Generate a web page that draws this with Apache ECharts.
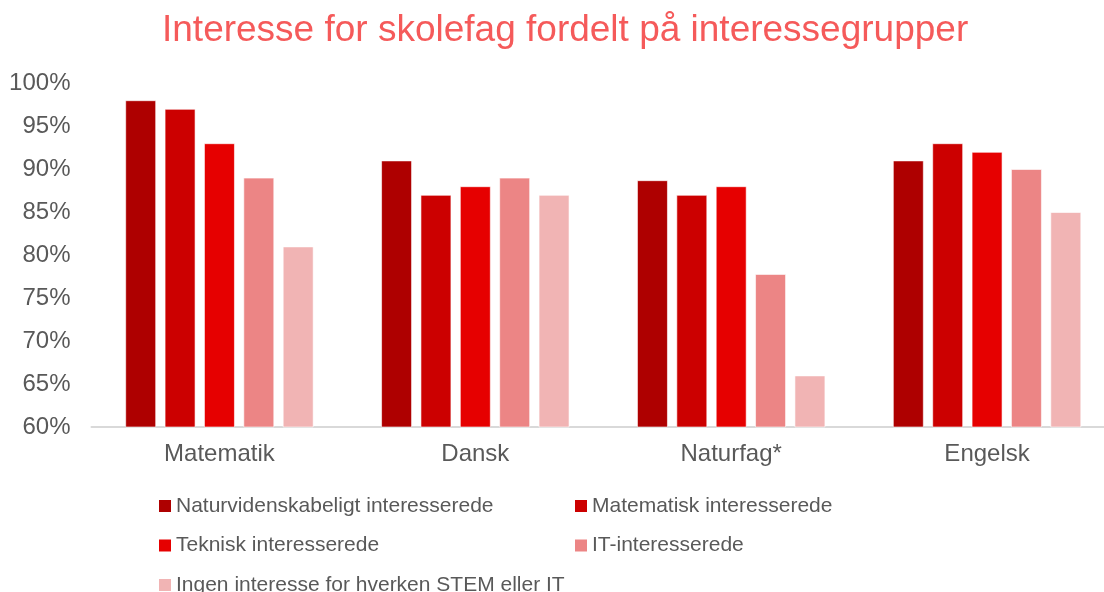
<!DOCTYPE html>
<html>
<head>
<meta charset="utf-8">
<script src="https://cdn.jsdelivr.net/npm/echarts@6/dist/echarts.min.js"></script>
<style>
  html, body { margin: 0; padding: 0; background: #fff; }
  #chart { width: 1104px; height: 592px; }
</style>
</head>
<body>
<div id="chart"></div>
<script>
  const categories = ['Matematik', 'Dansk', 'Naturfag*', 'Engelsk'];
  const seriesNames = [
    'Naturvidenskabeligt interesserede',
    'Matematisk interesserede',
    'Teknisk interesserede',
    'IT-interesserede',
    'Ingen interesse for hverken STEM eller IT',
  ];
  const naturvidenskabelig = [98, 91, 88.7, 91];
  const matematisk = [97, 87, 87, 93];
  const teknisk = [93, 88, 88, 92];
  const itInteresserede = [89, 89, 77.8, 90];
  const ingenInteresse = [81, 87, 66, 85];
  const yTicks = [60, 65, 70, 75, 80, 85, 90, 95, 100];

  const colors = ['#AE0000', '#CC0000', '#E60000', '#EC8585', '#F1B4B4'];
  const values = [naturvidenskabelig, matematisk, teknisk, itInteresserede, ingenInteresse];
  const font = '"Liberation Sans", Arial, sans-serif';

  const chart = echarts.init(document.getElementById('chart'));

  const legendText = {
    color: '#595959',
    fontSize: 21,
    fontFamily: font,
    lineHeight: 22,
  };

  const legendBase = {
    orient: 'vertical',
    top: 495,
    height: 200,
    padding: 0,
    itemWidth: 12,
    itemHeight: 12,
    itemGap: 17.5,
    icon: 'rect',
    itemStyle: { borderWidth: 0 },
    textStyle: legendText,
  };

  const option = {
    animation: false,
    title: {
      text: 'Interesse for skolefag fordelt på interessegrupper',
      left: 162,
      top: 12,
      padding: 0,
      textStyle: { color: '#F55A5A', fontSize: 37, fontWeight: 'normal', fontFamily: font },
    },
    grid: { left: 91.5, top: 83, width: 1023.5, height: 344, outerBoundsMode: 'none' },
    legend: [
      Object.assign({}, legendBase, {
        left: 159,
        data: [seriesNames[0], seriesNames[2], seriesNames[4]],
      }),
      Object.assign({}, legendBase, {
        left: 575,
        data: [seriesNames[1], seriesNames[3]],
      }),
    ],
    xAxis: {
      type: 'category',
      data: categories,
      axisLine: { lineStyle: { color: '#D9D9D9', width: 2 } },
      axisTick: { show: false },
      axisLabel: { color: '#595959', fontSize: 24, fontFamily: font, margin: 15 },
    },
    yAxis: {
      type: 'value',
      min: yTicks[0],
      max: yTicks[yTicks.length - 1],
      interval: 5,
      splitLine: { show: false },
      axisLine: { show: false },
      axisTick: { show: false },
      axisLabel: { color: '#595959', fontSize: 24, fontFamily: font, margin: 21, formatter: '{value}%' },
    },
    series: seriesNames.map((name, i) => ({
      name,
      type: 'bar',
      data: values[i],
      barWidth: 31,
      barGap: '27%',
      itemStyle: { color: colors[i], borderColor: 'rgba(255,255,255,0.6)', borderWidth: 1 },
    })),
  };

  chart.setOption(option);
  window.addEventListener('resize', () => chart.resize());
</script>
</body>
</html>
